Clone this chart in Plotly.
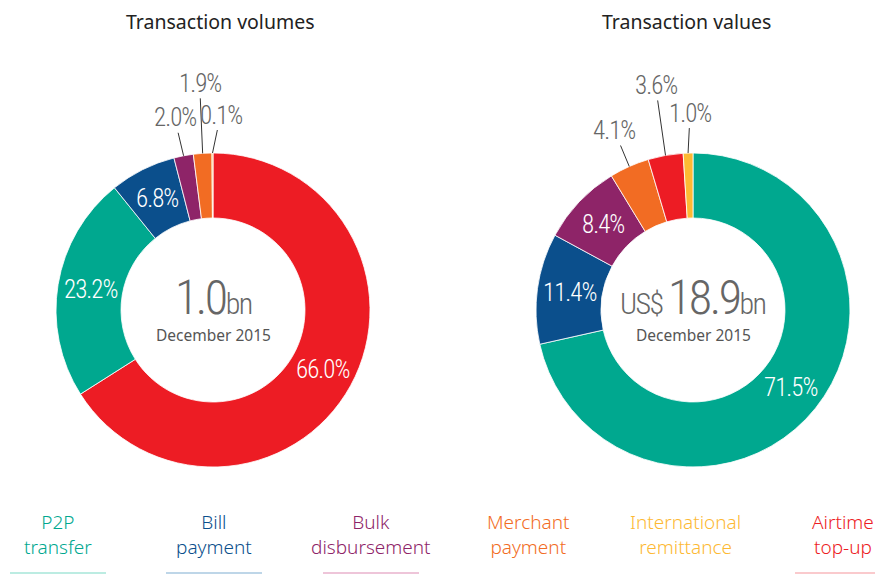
import math
import plotly.graph_objects as go

# ---------------- data ----------------
categories = ["P2P transfer", "Bill payment", "Bulk disbursement",
              "Merchant payment", "International remittance", "Airtime top-up"]
legend_lines = [["P2P", "transfer"], ["Bill", "payment"], ["Bulk", "disbursement"],
                ["Merchant", "payment"], ["International", "remittance"], ["Airtime", "top-up"]]

vol_order = ["Airtime top-up", "P2P transfer", "Bill payment", "Bulk disbursement",
             "Merchant payment", "International remittance"]
vol_values = [66.0, 23.2, 6.8, 2.0, 1.9, 0.1]

val_order = ["P2P transfer", "Bill payment", "Bulk disbursement", "Merchant payment",
             "Airtime top-up", "International remittance"]
val_values = [71.5, 11.4, 8.4, 4.1, 3.6, 1.0]

titles = ["Transaction volumes", "Transaction values"]
center_main = [("", "1.0", "bn"), ("US$ ", "18.9", "bn")]
center_sub = "December 2015"

# ---------------- style ----------------
OFF = 8                      # page body margin (px)
W, H = 883 - OFF, 574 - OFF  # figure size
colors = {
    "P2P transfer": "#00A88F",
    "Bill payment": "#0B4F8C",
    "Bulk disbursement": "#8E2468",
    "Merchant payment": "#F26C23",
    "International remittance": "#FDB933",
    "Airtime top-up": "#ED1C24",
}
underline_colors = {
    "P2P transfer": "#A6E6D8",
    "Bill payment": "#A9C8E0",
    "Bulk disbursement": "#E8B2CD",
    "Airtime top-up": "#F9B9BC",
}
COND = "Roboto Condensed, Liberation Sans Narrow, sans-serif"
SANS = "Noto Sans, Open Sans, sans-serif"

def cond(txt, size, ls=-1.0):
    return (f"<span style='font-stretch:condensed;font-weight:300;"
            f"letter-spacing:{ls}px;font-size:{size}px'>{txt}</span>")

centers = [(213, 310), (693, 310)]   # screen pixels
R_OUT, R_IN = 157, 92
# pixel offsets (ax, ay) for outside callouts of small slices
callout_offsets = [
    {"Bulk disbursement": (-9, -38), "Merchant payment": (-3, -70), "International remittance": (8, -38)},
    {"Merchant payment": (-15, -36), "Airtime top-up": (-10, -70), "International remittance": (2, -40)},
]

def px2paper(x, y):
    return (x - OFF) / W, 1 - (y - OFF) / H

def ann(x, y, text, font, **kw):
    xp, yp = px2paper(x, y)
    d = dict(x=xp, y=yp, xref="paper", yref="paper", text=text, font=font,
             xanchor="center", yanchor="middle", showarrow=False)
    d.update(kw)
    return d

fig = go.Figure()
annotations = []
shapes = []

for i, (order, vals) in enumerate([(vol_order, vol_values), (val_order, val_values)]):
    cx, cy = centers[i]
    x0, y1 = px2paper(cx - R_OUT, cy - R_OUT)
    x1, y0 = px2paper(cx + R_OUT, cy + R_OUT)
    fig.add_trace(go.Pie(
        labels=order, values=vals, sort=False, direction="clockwise", rotation=0,
        hole=R_IN / R_OUT, textinfo="none", hoverinfo="label+percent",
        marker=dict(colors=[colors[c] for c in order], line=dict(color="white", width=0.8)),
        domain=dict(x=[x0, x1], y=[y0, y1]), showlegend=False,
    ))
    total = sum(vals)
    cum = 0.0
    for name, v in zip(order, vals):
        mid = (cum + v / 2) / total * 2 * math.pi
        cum += v
        txt = f"{v:.1f}%"
        if name in callout_offsets[i]:
            px = cx + R_OUT * math.sin(mid)
            py = cy - R_OUT * math.cos(mid)
            ax, ay = callout_offsets[i][name]
            annotations.append(ann(px, py, cond(txt, 25), dict(family=COND, size=25, color="#666"),
                                   showarrow=True, arrowhead=0, arrowwidth=1, arrowcolor="#333",
                                   ax=ax, ay=ay, standoff=0, borderpad=0))
        else:
            rm = (R_OUT + R_IN) / 2
            px = cx + rm * math.sin(mid)
            py = cy - rm * math.cos(mid)
            annotations.append(ann(px, py, cond(txt, 25), dict(family=COND, size=25, color="white")))
    # center text
    pre, num, unit = center_main[i]
    main_txt = ""
    if pre:
        main_txt += cond(pre, 30, -1.5)
    main_txt += cond(num, 48, -2.5) + cond(unit, 30, -1.5)
    annotations.append(ann(cx, cy - 13, main_txt, dict(family=COND, size=48, color="#666")))
    annotations.append(ann(cx, cy + 25, center_sub, dict(family=SANS, size=15.5, color="#555")))
    # title
    tx = cx + (7 if i == 0 else -7)
    annotations.append(ann(tx, 21, titles[i], dict(family=SANS, size=19.5, color="#222")))

# legend at bottom
leg_centers = [58, 214, 371, 528, 685, 843]
for name, lines, lx in zip(categories, legend_lines, leg_centers):
    annotations.append(ann(lx, 534, "<br>".join(lines),
                           dict(family=SANS, size=19, color=colors[name], weight=300),
                           align="center"))
    if name in underline_colors:
        xa, ya = px2paper(lx - 48, 573)
        xb, _ = px2paper(min(lx + 48, 883), 573)
        shapes.append(dict(type="line", xref="paper", yref="paper", x0=xa, x1=xb, y0=ya, y1=ya,
                           line=dict(color=underline_colors[name], width=1.5)))

fig.update_layout(
    width=W, height=H, margin=dict(l=0, r=0, t=0, b=0),
    paper_bgcolor="white", plot_bgcolor="white",
    annotations=annotations, shapes=shapes,
)
fig.write_html("out.html")
